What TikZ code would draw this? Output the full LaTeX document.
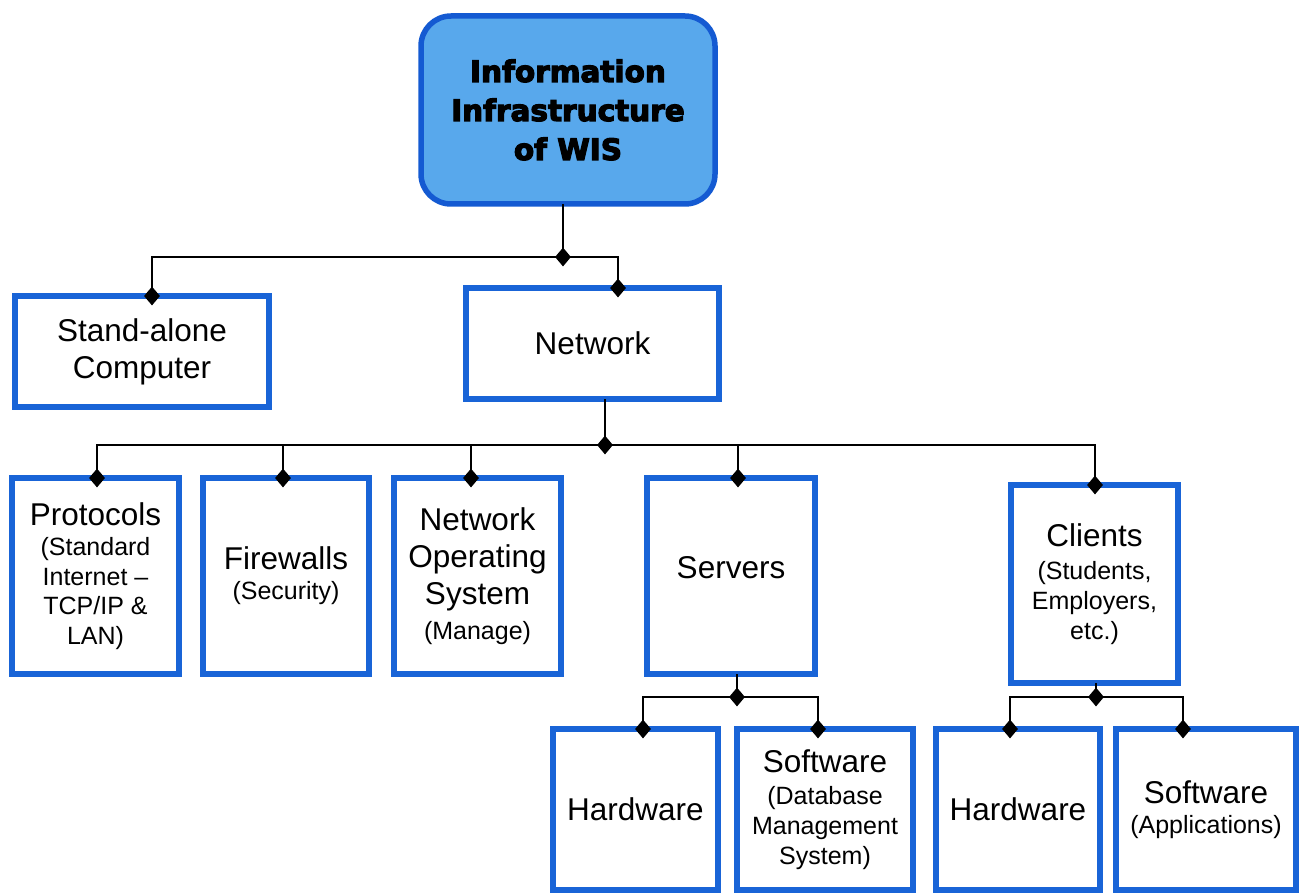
\documentclass[tikz,border=0pt]{standalone}
\usepackage{fontspec}
\setmainfont{Liberation Sans}
\newfontfamily\titlefont{DejaVu Sans}[BoldFeatures={FakeBold=4}]
\usetikzlibrary{shapes.geometric}

\definecolor{boxblue}{RGB}{25,100,215}
\definecolor{rootblue}{RGB}{20,90,210}
\definecolor{rootfill}{RGB}{88,168,236}

\newcommand\bigtxt{\fontsize{31.5}{37}\selectfont}
\newcommand\smtxt{\fontsize{25}{30}\selectfont}

\tikzset{
  box/.style={draw=boxblue, line width=5.5pt, fill=white, align=center,
    inner sep=0pt, outer sep=0pt, font=\bigtxt},
  rootbox/.style={box, draw=rootblue, fill=rootfill, rounded corners=30pt,
    font=\titlefont\bfseries\fontsize{29.5}{39}\selectfont},
  link/.style={draw=black, line width=2pt},
  joint/.style={diamond, fill=black, inner sep=0pt, minimum width=16pt,
    minimum height=19pt},
}

\begin{document}
\begin{tikzpicture}[x=1pt, y=-1pt]
\useasboundingbox (0,0) rectangle (1303,893);

% ---- boxes ----
\node[rootbox, minimum width=294pt, minimum height=188pt] (root) at (568,110)
  {Information\\Infrastructure\\of WIS};

\node[box, minimum width=254pt, minimum height=111pt] (stand) at (142,351.5)
  {Stand-alone\\Computer};
\node[box, minimum width=253pt, minimum height=111pt] (network) at (592.5,343.5)
  {Network};

\node[box, minimum width=167pt, minimum height=196pt] (protocols) at (95.5,576)
  {Protocols\\[-7pt]{\smtxt (Standard}\\[-7.5pt]{\smtxt Internet –}\\[-7.5pt]{\smtxt TCP/IP \&}\\[-7.5pt]{\smtxt LAN)}};
\node[box, minimum width=166pt, minimum height=196pt] (firewalls) at (286,576)
  {Firewalls\\[-7pt]{\smtxt (Security)}};
\node[box, minimum width=167pt, minimum height=196pt] (nos) at (477.5,576)
  {Network\\Operating\\System\\[-2pt]{\smtxt (Manage)}};
\node[box, minimum width=168pt, minimum height=196pt] (servers) at (731,576)
  {\raisebox{18pt}{Servers}};
\node[box, minimum width=167pt, minimum height=198pt] (clients) at (1094.5,584)
  {Clients\\[-4pt]{\smtxt (Students,}\\[-7pt]{\smtxt Employers,}\\[-7pt]{\smtxt etc.)}};

\node[box, minimum width=165pt, minimum height=161pt] (shw) at (635.5,809.5)
  {Hardware};
\node[box, minimum width=176pt, minimum height=161pt] (ssw) at (825,809.5)
  {Software\\[-5pt]{\smtxt (Database}\\[-7pt]{\smtxt Management}\\[-7pt]{\smtxt System)}};
\node[box, minimum width=164pt, minimum height=161pt] (chw) at (1018,809.5)
  {Hardware};
\node[box, minimum width=180pt, minimum height=161pt] (csw) at (1206,809.5)
  {Software\\[-7pt]{\smtxt (Applications)}};

% ---- junction points and drop points ----
\coordinate (J0) at (563,257);
\coordinate (J1) at (605,445);
\coordinate (J2) at (737,697);
\coordinate (J3) at (1096,697);

\coordinate (tStand) at ([xshift=10pt]stand.north);
\coordinate (tNet)   at ([xshift=25.5pt]network.north);
\coordinate (tProt)  at ([xshift=1.5pt]protocols.north);
\coordinate (tFire)  at ([xshift=-3pt]firewalls.north);
\coordinate (tNos)   at ([xshift=-6.5pt]nos.north);
\coordinate (tServ)  at ([xshift=7pt]servers.north);
\coordinate (tCli)   at ([xshift=0.5pt]clients.north);
\coordinate (tShw)   at ([xshift=7.5pt]shw.north);
\coordinate (tSsw)   at ([xshift=-7pt]ssw.north);
\coordinate (tChw)   at ([xshift=-8pt]chw.north);
\coordinate (tCsw)   at ([xshift=-23pt]csw.north);

% ---- connectors ----
\draw[link] (J0 |- root.south) -- (J0);
\draw[link] (tStand) |- (J0) -| (tNet);

\draw[link] (J1 |- network.south) -- (J1);
\draw[link] (tProt) |- (J1) -| (tCli);
\draw[link] (tFire) -- (tFire |- J1);
\draw[link] (tNos) -- (tNos |- J1);
\draw[link] (tServ) -- (tServ |- J1);

\draw[link] (J2 |- servers.south) -- (J2);
\draw[link] (tShw) |- (J2) -| (tSsw);

\draw[link] (J3 |- clients.south) -- (J3);
\draw[link] (tChw) |- (J3) -| (tCsw);

% ---- diamonds ----
\foreach \p in {J0,J1,J2,J3,tStand,tNet,tProt,tFire,tNos,tServ,tCli,tShw,tSsw,tChw,tCsw}
  \node[joint] (d-\p) at (\p) {};
\end{tikzpicture}
\end{document}
